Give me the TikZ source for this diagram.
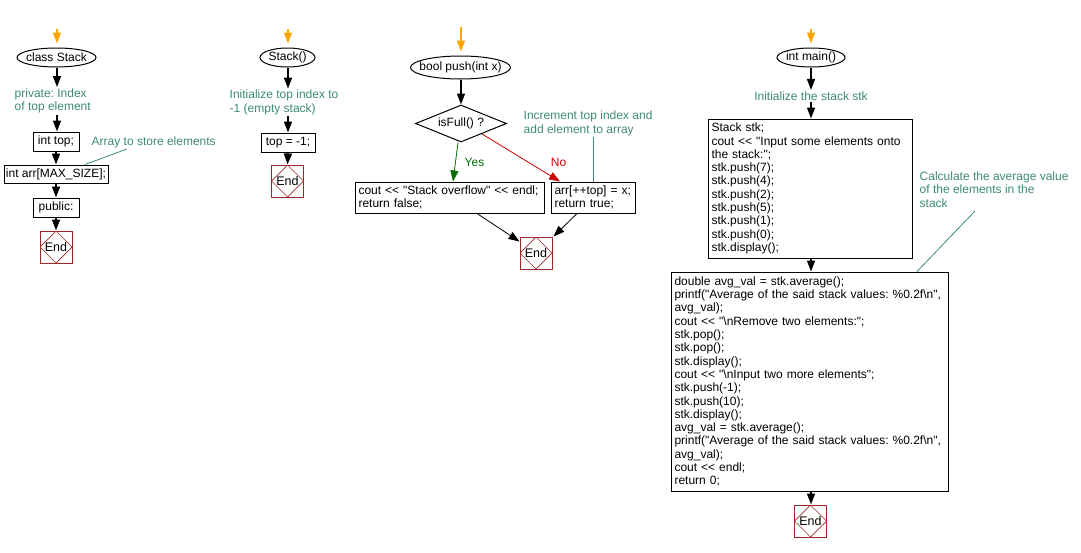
\documentclass[tikz,border=0pt]{standalone}
\usepackage{fontspec}
\setmainfont{Liberation Sans}[Ligatures=TeXOff]
\usetikzlibrary{shapes.geometric,arrows.meta}
\definecolor{cmtgreen}{RGB}{61,139,109}
\definecolor{yesgreen}{RGB}{0,110,0}
\definecolor{nored}{RGB}{204,0,0}
\definecolor{endred}{RGB}{160,40,40}
\definecolor{startorange}{RGB}{255,165,0}
\frenchspacing
\begin{document}
\begin{tikzpicture}[x=1pt,y=-1pt,
  font=\fontsize{12}{13.3}\selectfont\frenchspacing,
  term/.style={ellipse, draw, line width=1pt, inner sep=0pt},
  proc/.style={draw, line width=1pt, inner sep=0pt},
  code/.style={draw, line width=1pt, inner xsep=3.5pt, inner ysep=0pt, align=left},
  decide/.style={diamond, draw, line width=1pt, inner sep=0pt},
  endnode/.style={draw=endred, line width=1pt, minimum size=32pt, inner sep=0pt,
    font=\fontsize{12.5}{14}\selectfont,
    path picture={\draw[endred, line width=0.7pt]
      (path picture bounding box.north) -- (path picture bounding box.east) --
      (path picture bounding box.south) -- (path picture bounding box.west) -- cycle;}},
  cmt/.style={text=cmtgreen, inner sep=1.5pt, align=left},
  tip/.style={-{Triangle[width=8pt,length=11pt]}},
  arr/.style={line width=1.6pt, tip},
  startarr/.style={draw=startorange, line width=1.6pt, tip, shorten >=4pt},
  flow/.style={line width=0.8pt, tip},
  cline/.style={draw=cmtgreen, line width=0.8pt},
]
\useasboundingbox (0,0) rectangle (1081,552);

% ---------------- column 1: class Stack
\coordinate (s1) at (57,29);
\node[term, minimum width=79pt, minimum height=19pt] (cs) at (56.5,57.5) {\makebox[0pt]{class Stack}};
\node[cmt, anchor=west] (c1) at (13,101) {private: Index\\of top element};
\node[proc, minimum width=46pt, minimum height=19pt] (itop) at (56,141.5) {int top;};
\node[proc, minimum width=104pt, minimum height=18pt] (iarr) at (56,174) {int arr[MAX\_SIZE];};
\node[proc, minimum width=46pt, minimum height=19pt] (pub) at (56,207.5) {public:};
\node[endnode] (e1) at (56,247) {End};
\node[cmt, anchor=west] (c1b) at (90,142) {Array to store elements};
\coordinate (k1) at (127,149);

\draw[startarr] (s1) -- (s1 |- cs.north);
\draw[arr] (cs.south -| s1) -- (s1 |- c1.north);
\draw[arr] (s1 |- c1.south) -- (s1 |- itop.north);
\draw[arr] (itop.south) -- (iarr.north);
\draw[arr] (iarr.south) -- (pub.north);
\draw[arr] (pub.south) -- (e1.north);
\draw[cline] (k1) -- ([xshift=29pt]iarr.north);

% ---------------- column 2: Stack()
\coordinate (s2) at (288,29);
\node[term, minimum width=55pt, minimum height=19pt] (ctor) at (287.5,57.5) {\makebox[0pt]{Stack()}};
\node[cmt, anchor=west] (c2) at (228,102.5) {Initialize top index to\\-1 (empty stack)};
\node[proc, minimum width=54pt, minimum height=19pt] (tset) at (288,142.5) {top = -1;};
\node[endnode] (e2) at (287.5,181) {End};

\draw[startarr] (s2) -- (s2 |- ctor.north);
\draw[arr] (s2 |- ctor.south) -- (s2 |- c2.north);
\draw[arr] (s2 |- c2.south) -- (s2 |- tset.north);
\draw[arr] (tset.south) -- (e2.north);

% ---------------- column 3: bool push(int x)
\coordinate (s3) at (461,27);
\node[term, minimum width=100pt, minimum height=23pt] (push) at (460.5,67.5) {\makebox[0pt]{bool push(int x)}};
\node[decide, minimum width=91pt, minimum height=37pt] (full) at (461,123.5) {\makebox[0pt]{isFull() ?}};
\node[code, text width=182pt, minimum height=31pt] (lbox) at (449.5,197.5)
  {cout << "Stack overflow" << endl;\\return false;};
\node[code, text width=77pt, minimum height=31pt] (rbox) at (593,197.5)
  {arr[++top] = x;\\return true;};
\node[cmt, anchor=west] (c3) at (522,123.5) {Increment top index and\\add element to array};
\node[endnode] (e3) at (536,253) {End};
\node[text=yesgreen, inner sep=0pt] (yes) at (474.5,162) {Yes};
\node[text=nored, inner sep=0pt] (no) at (558.5,162) {No};
\coordinate (k3) at (593,137);

\draw[startarr] (s3) -- (s3 |- push.north);
\draw[arr] (s3 |- push.south) -- (s3 |- full.north);
\draw[flow, draw=yesgreen]
  ([xshift=-3pt]full.south) -- ([xshift=3.5pt]lbox.north);
\draw[flow, draw=nored]
  ([shift={(21,-8.5)}]full.south) -- ([xshift=-33pt]rbox.north);
\draw[cline] (k3) -- (rbox.north);
\draw[flow] ([xshift=27.5pt]lbox.south) -- ([yshift=-5pt]e3.north west);
\draw[flow] ([xshift=-16pt]rbox.south) -- ([xshift=1pt]e3.north east);

% ---------------- column 4: int main()
\coordinate (s4) at (811,29);
\node[term, minimum width=68pt, minimum height=19pt] (main) at (811,57.5) {\makebox[0pt]{int main()}};
\node[cmt] (c4) at (811,96) {Initialize the stack stk};
\node[code, text width=197pt, minimum height=139pt] (b1) at (810,188.5)
  {Stack stk;\\
   cout << "Input some elements onto\\
   the stack:";\\
   stk.push(7);\\
   stk.push(4);\\
   stk.push(2);\\
   stk.push(5);\\
   stk.push(1);\\
   stk.push(0);\\
   stk.display();};
\node[code, text width=270pt, minimum height=219pt] (b2) at (809.5,381.5)
  {double avg\_val = stk.average();\\
   printf("Average of the said stack values: \%0.2f\textbackslash n",\\
   avg\_val);\\
   cout << "\textbackslash nRemove two elements:";\\
   stk.pop();\\
   stk.pop();\\
   stk.display();\\
   cout << "\textbackslash nInput two more elements";\\
   stk.push(-1);\\
   stk.push(10);\\
   stk.display();\\
   avg\_val = stk.average();\\
   printf("Average of the said stack values: \%0.2f\textbackslash n",\\
   avg\_val);\\
   cout << endl;\\
   return 0;};
\node[endnode] (e4) at (810.5,521) {End};
\node[cmt, anchor=west] (c4b) at (918,189.5) {Calculate the average value\\of the elements in the\\stack};
\coordinate (k4) at (975,211);

\draw[startarr] (s4) -- (s4 |- main.north);
\draw[arr] (s4 |- main.south) -- (s4 |- c4.north);
\draw[arr] (s4 |- c4.south) -- (s4 |- b1.north);
\draw[arr] (s4 |- b1.south) -- (s4 |- b2.north);
\draw[arr] (s4 |- b2.south) -- (s4 |- e4.north);
\draw[cline] (k4) -- ([xshift=107.5pt]b2.north);
\end{tikzpicture}
\end{document}
